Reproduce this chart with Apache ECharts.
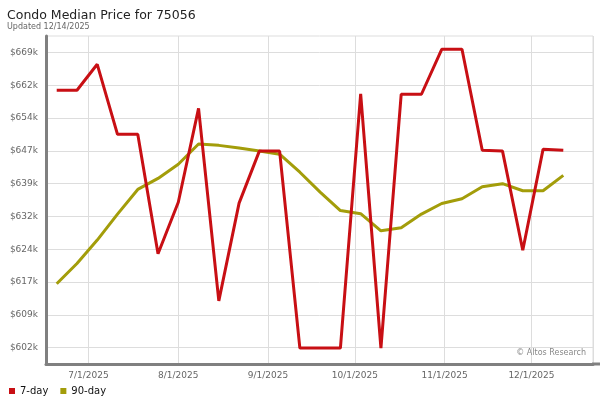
<!DOCTYPE html>
<html>
<head>
<meta charset="utf-8">
<script src="https://cdn.jsdelivr.net/npm/echarts@6/dist/echarts.min.js"></script>
<style>
html,body{margin:0;padding:0;background:#fff;}
#chart{width:600px;height:400px;}
</style>
</head>
<body>
<div id="chart"></div>
<script>
// ---- data ----
const dates = ['2025-06-20','2025-06-27','2025-07-04','2025-07-11','2025-07-18','2025-07-25','2025-08-01','2025-08-08','2025-08-15','2025-08-22','2025-08-29','2025-09-05','2025-09-12','2025-09-19','2025-09-26','2025-10-03','2025-10-10','2025-10-17','2025-10-24','2025-10-31','2025-11-07','2025-11-14','2025-11-21','2025-11-28','2025-12-05','2025-12-12'];
const sevenDay = [660400, 660400, 666300, 650400, 650400, 623300, 635000, 656300, 612600, 634800, 646600, 646600, 601900, 601900, 601900, 659600, 601900, 659500, 659500, 669700, 669700, 646800, 646600, 624100, 647000, 646800];
const ninetyDay = [616500, 621100, 626400, 632300, 637900, 640400, 643600, 648200, 647900, 647300, 646600, 645900, 641800, 637300, 633100, 632400, 628500, 629200, 632300, 634700, 635800, 638500, 639200, 637600, 637600, 641100];
const yTickValues = [602000, 609444, 616889, 624333, 631778, 639222, 646667, 654111, 661556, 669000];
const yTickLabels = ['$602k','$609k','$617k','$624k','$632k','$639k','$647k','$654k','$662k','$669k'];
const seriesNames = ['7-day', '90-day'];
const titleText = 'Condo Median Price for 75056';
const subtitleText = 'Updated 12/14/2025';
const watermark = '\u00A9 Altos Research';

// ---- layout ----
const DAY = 86400000;
const xMin = new Date(dates[0] + 'T00:00:00').getTime() - 3.7 * DAY;
const xMax = new Date(dates[dates.length - 1] + 'T00:00:00').getTime() + 10.26 * DAY;
const step = (yTickValues[yTickValues.length - 1] - yTickValues[0]) / (yTickValues.length - 1);
const yMin = yTickValues[0] - 0.5 * step;
const yMax = yTickValues[yTickValues.length - 1] + 0.5 * step;

const FONT = 'DejaVu Sans';
const colors = ['#c80f14', '#a39d0a'];

const toPairs = (arr) => arr.map((v, i) => [dates[i], v]);

const chart = echarts.init(document.getElementById('chart'), null, {renderer: 'canvas'});
chart.setOption({
  animation: false,
  backgroundColor: '#fff',
  textStyle: {fontFamily: FONT},
  title: [
    {text: titleText, left: 2, top: 4, textStyle: {fontFamily: FONT, fontSize: 12.5, fontWeight: 'normal', color: '#222'}},
    {text: subtitleText, left: 2, top: 17.5, textStyle: {fontFamily: FONT, fontSize: 8, fontWeight: 'normal', color: '#666'}}
  ],
  grid: {left: 46, right: 7, top: 36, bottom: 36, show: true, borderColor: '#dddddd', borderWidth: 1},
  legend: {
    data: seriesNames, left: 4, top: 381, icon: 'rect', itemWidth: 6, itemHeight: 6, itemGap: 12,
    textStyle: {fontFamily: FONT, fontSize: 10, color: '#111'}
  },
  xAxis: {
    type: 'time', min: xMin, max: xMax,
    axisLine: {show: true, onZero: false, lineStyle: {color: '#808080', width: 3}},
    axisTick: {show: false},
    splitLine: {show: true, lineStyle: {color: '#dddddd', width: 1}},
    axisLabel: {
      fontFamily: FONT, fontSize: 9, color: '#666', margin: 7,
      showMinLabel: false, showMaxLabel: false, hideOverlap: false,
      formatter: function (v) {
        const d = new Date(v);
        if (d.getDate() !== 1) return '';
        return (d.getMonth() + 1) + '/' + d.getDate() + '/' + d.getFullYear();
      }
    }
  },
  yAxis: {
    type: 'value', min: yMin, max: yMax,
    axisLine: {show: true, onZero: false, lineStyle: {color: '#808080', width: 3}},
    axisTick: {show: false, customValues: yTickValues},
    splitLine: {show: true, lineStyle: {color: '#dddddd', width: 1}},
    axisLabel: {
      fontFamily: FONT, fontSize: 9, color: '#666', margin: 8,
      customValues: yTickValues,
      formatter: function (v) {
        let best = 0, bd = Infinity;
        yTickValues.forEach((t, i) => { const d = Math.abs(t - v); if (d < bd) { bd = d; best = i; } });
        return bd < 1 ? yTickLabels[best] : '';
      }
    }
  },
  series: [
    {
      name: seriesNames[0], type: 'line', data: toPairs(sevenDay),
      showSymbol: false, symbol: 'none', color: colors[0],
      lineStyle: {width: 3, color: colors[0]}, z: 3
    },
    {
      name: seriesNames[1], type: 'line', data: toPairs(ninetyDay),
      showSymbol: false, symbol: 'none', color: colors[1],
      lineStyle: {width: 3, color: colors[1]}, z: 2
    }
  ],
  graphic: [
    {type: 'line', shape: {x1: 592, y1: 364, x2: 600, y2: 364}, style: {stroke: '#808080', lineWidth: 3}, z: 100},
    {type: 'text', right: 14, top: 349, style: {text: watermark, font: '8px "DejaVu Sans"', fill: '#888'}, z: 100}
  ]
});
</script>
</body>
</html>
